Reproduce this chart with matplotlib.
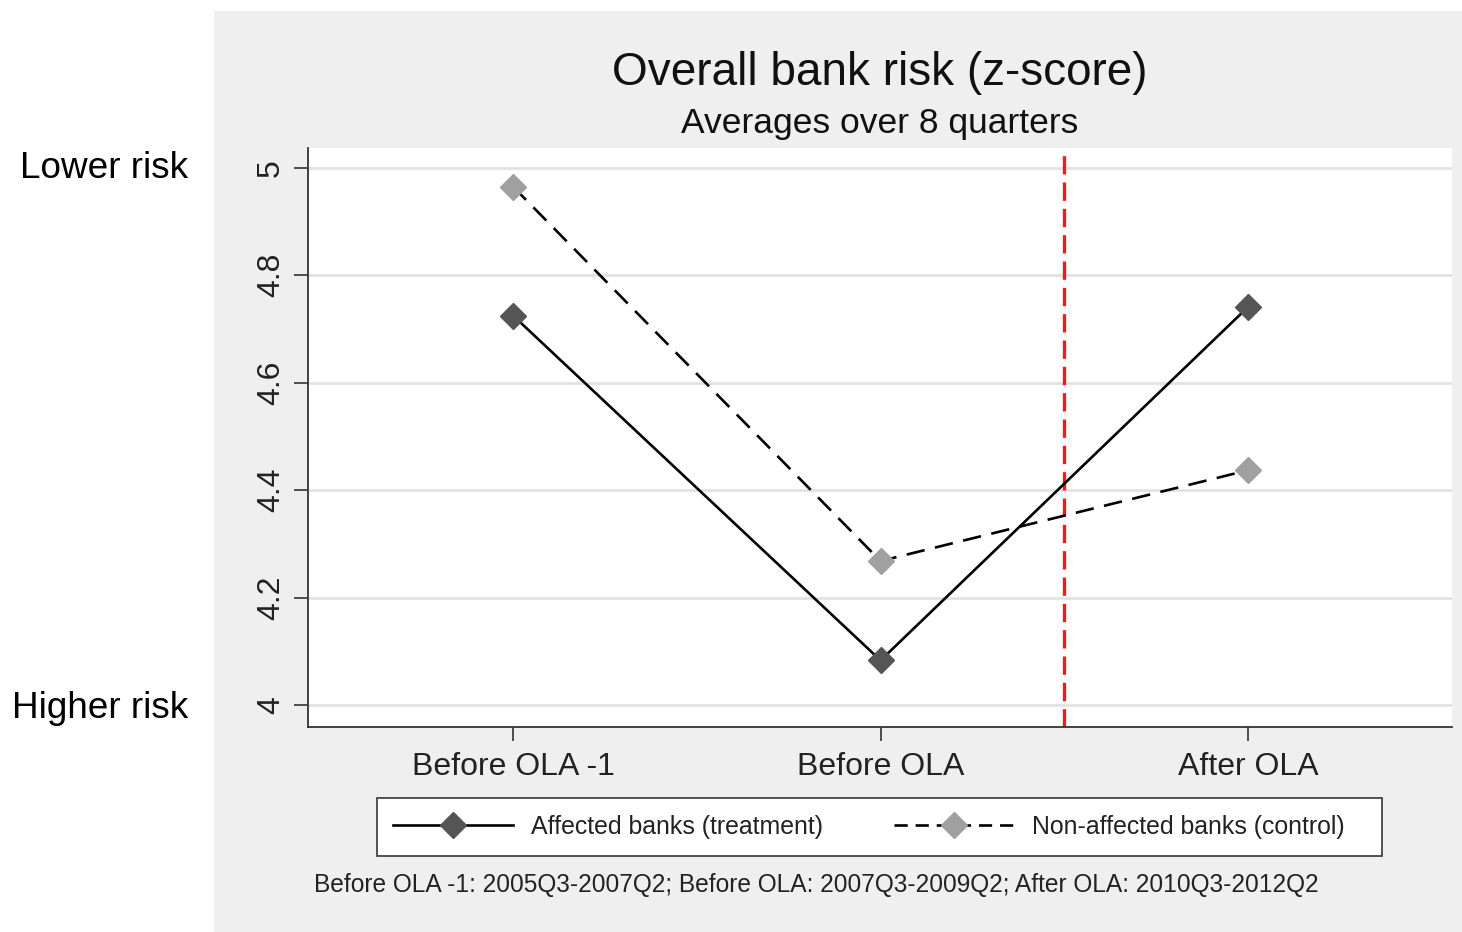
import matplotlib
matplotlib.use("Agg")
import matplotlib.pyplot as plt
from matplotlib.patches import Rectangle
from matplotlib.lines import Line2D

periods = ["Before OLA -1", "Before OLA", "After OLA"]
treatment = [4.725, 4.083, 4.741]
control = [4.965, 4.268, 4.437]
yticks = [4, 4.2, 4.4, 4.6, 4.8, 5]
ytick_labels = ["4", "4.2", "4.4", "4.6", "4.8", "5"]
treat_label = "Affected banks (treatment)"
ctrl_label = "Non-affected banks (control)"
note = "Before OLA -1: 2005Q3-2007Q2; Before OLA: 2007Q3-2009Q2; After OLA: 2010Q3-2012Q2"

plt.rcParams['font.family'] = ['Liberation Sans', 'DejaVu Sans']

W, H = 1462, 932
fig = plt.figure(figsize=(W/100, H/100), dpi=100)
fig.patch.set_facecolor('white')
fig.add_artist(Rectangle((214/W, 0), 1 - 214/W, (H-11)/H, transform=fig.transFigure,
                         facecolor='#efefef', edgecolor='none', zorder=0))

ax = fig.add_axes([308/W, (H-727)/H, 1144/W, 579/H])
ax.set_facecolor('white')
x = list(range(len(periods)))
ax.plot(x, treatment, color='black', lw=1.9, marker='D', markersize=13,
        markerfacecolor='#555555', markeredgecolor='#555555', zorder=3)
ax.plot(x, control, color='black', lw=1.9, ls=(0, (7, 4)), marker='D', markersize=13,
        markerfacecolor='#a0a0a0', markeredgecolor='#a0a0a0', zorder=3)
ax.axvline(1.5, color='#f01a24', lw=2.4, ls=(0, (5.5, 2.4)), zorder=2)

ax.set_xlim(-0.558, 2.555)
ax.set_ylim(3.959, 5.037)
ax.set_yticks(yticks)
ax.set_yticklabels(ytick_labels, rotation=90, va='center', fontsize=23, color='#222222')
ax.set_xticks(x)
ax.set_xticklabels(periods, fontsize=23, color='#222222')
ax.tick_params(axis='y', length=10, width=1.2, color='#333333', pad=6)
ax.tick_params(axis='x', length=10, width=1.2, color='#333333', pad=8)
ax.yaxis.grid(True, color='#e2e2e2', lw=2)
ax.set_axisbelow(True)
for s in ['top', 'right']:
    ax.spines[s].set_visible(False)
for s in ['left', 'bottom']:
    ax.spines[s].set_color('#333333')
    ax.spines[s].set_linewidth(1.3)

fig.text(880/W, 1 - 73/H, "Overall bank risk (z-score)", ha='center', va='center',
         fontsize=33, color='#111111')
fig.text(880/W, 1 - 124/H, "Averages over 8 quarters", ha='center', va='center',
         fontsize=25.5, color='#111111')
fig.text(188/W, 1 - 168/H, "Lower risk", ha='right', va='center', fontsize=26.6)
fig.text(188/W, 1 - 708/H, "Higher risk", ha='right', va='center', fontsize=26.6)
fig.text(314/W, 1 - 885/H, note, ha='left', va='center', fontsize=17.65, color='#222222')

# legend box
fig.add_artist(Rectangle((377/W, 1 - 856/H), (1382 - 377)/W, 58/H, transform=fig.transFigure,
                         facecolor='white', edgecolor='#444444', lw=1.3, zorder=1))
handles = [Line2D([], [], color='black', lw=1.9, marker='D', markersize=13,
                  markerfacecolor='#555555', markeredgecolor='#555555'),
           Line2D([], [], color='black', lw=1.9, ls=(0, (5, 3)), marker='D', markersize=13,
                  markerfacecolor='#a0a0a0', markeredgecolor='#a0a0a0')]
leg = fig.legend(handles, [treat_label, ctrl_label], loc='center left',
                 bbox_to_anchor=(377/W, 1 - 827/H), ncol=2, fontsize=17.9,
                 frameon=False, handlelength=4.85, columnspacing=2.85,
                 handletextpad=0.7, borderpad=0.64, borderaxespad=0)
leg.set_zorder(2)
for t in leg.get_texts():
    t.set_color('#222222')

fig.savefig("out.png", dpi=100)
